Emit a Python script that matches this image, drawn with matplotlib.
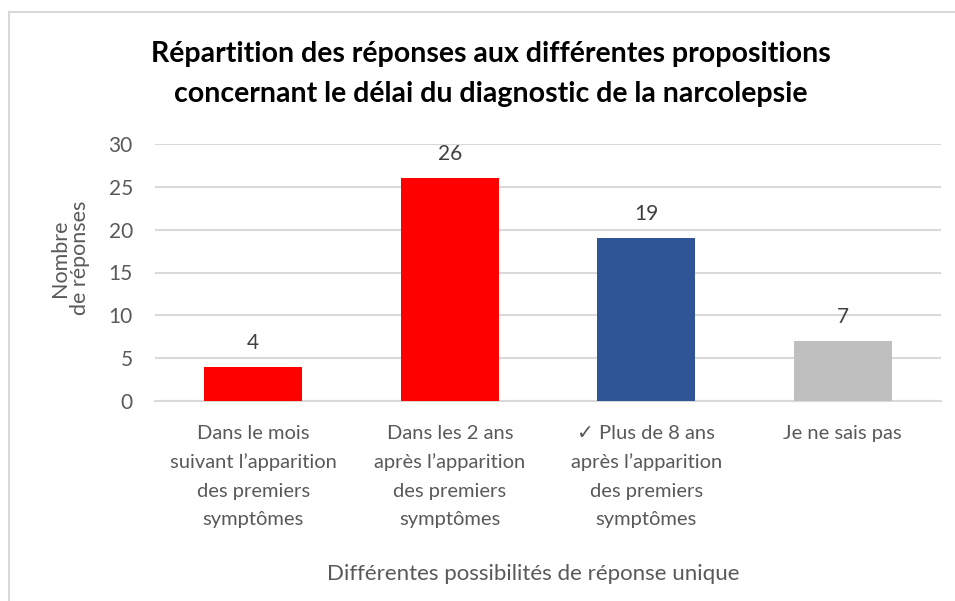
import matplotlib
matplotlib.use("Agg")
import matplotlib.pyplot as plt
from matplotlib.lines import Line2D

plt.rcParams["font.family"] = ["Lato", "DejaVu Sans"]

# Data
categories = [
    "Dans le mois\nsuivant l\u2019apparition\ndes premiers\nsymptômes",
    "Dans les 2 ans\naprès l\u2019apparition\ndes premiers\nsymptômes",
    "\u2713 Plus de 8 ans\naprès l\u2019apparition\ndes premiers\nsymptômes",
    "Je ne sais pas",
]
values = [4, 26, 19, 7]
bar_colors = ["#FF0000", "#FF0000", "#2F5597", "#BFBFBF"]
yticks = [0, 5, 10, 15, 20, 25, 30]

W, H = 955, 601
fig = plt.figure(figsize=(W / 100, H / 100), dpi=100)
ax = fig.add_axes([155 / W, (H - 401) / H, (941 - 155) / W, (401 - 144) / H])

x = range(len(values))
bars = ax.bar(x, values, width=0.5, color=bar_colors, zorder=3)
ax.set_xlim(-0.5, len(values) - 0.5)
ax.set_ylim(0, 30)
ax.set_yticks(yticks)
ax.set_xticks(list(x))
ax.set_xticklabels(categories, fontsize=14.5, color="#595959", linespacing=1.8,
                   va="top")
ax.tick_params(axis="y", labelsize=15, labelcolor="#595959", length=0, pad=16)
ax.tick_params(axis="x", length=0, pad=17)

for b, v in zip(bars, values):
    ax.annotate(str(v), (b.get_x() + b.get_width() / 2, v), xytext=(0, 10),
                textcoords="offset points", ha="center", va="bottom",
                fontsize=15, color="#404040")

ax.grid(axis="y", color="#D9D9D9", lw=1.5, zorder=0)
for s in ["top", "right", "left"]:
    ax.spines[s].set_visible(False)
ax.spines["bottom"].set_color("#D9D9D9")
ax.spines["bottom"].set_linewidth(1.5)

# Titles
fig.text(491 / W, 1 - 54 / H, "Répartition des réponses aux différentes propositions",
         ha="center", va="center", fontsize=20.5, fontweight="bold", color="black")
fig.text(491 / W, 1 - 94 / H, "concernant le délai du diagnostic de la narcolepsie",
         ha="center", va="center", fontsize=20.5, fontweight="bold", color="black")
fig.text(533 / W, 1 - 574 / H, "Différentes possibilités de réponse unique",
         ha="center", va="center", fontsize=16, color="#595959")
fig.text(70 / W, 1 - 258 / H, "Nombre\nde réponses", ha="center", va="center",
         rotation=90, fontsize=15.5, color="#595959", linespacing=1.0)

# Chart border
fig.add_artist(Line2D([9 / W, 9 / W], [0, 1 - 12 / H], color="#D9D9D9", lw=1.5))
fig.add_artist(Line2D([9 / W, 1], [1 - 12 / H, 1 - 12 / H], color="#D9D9D9", lw=1.5))

fig.savefig("out.png", dpi=100, facecolor="white")
